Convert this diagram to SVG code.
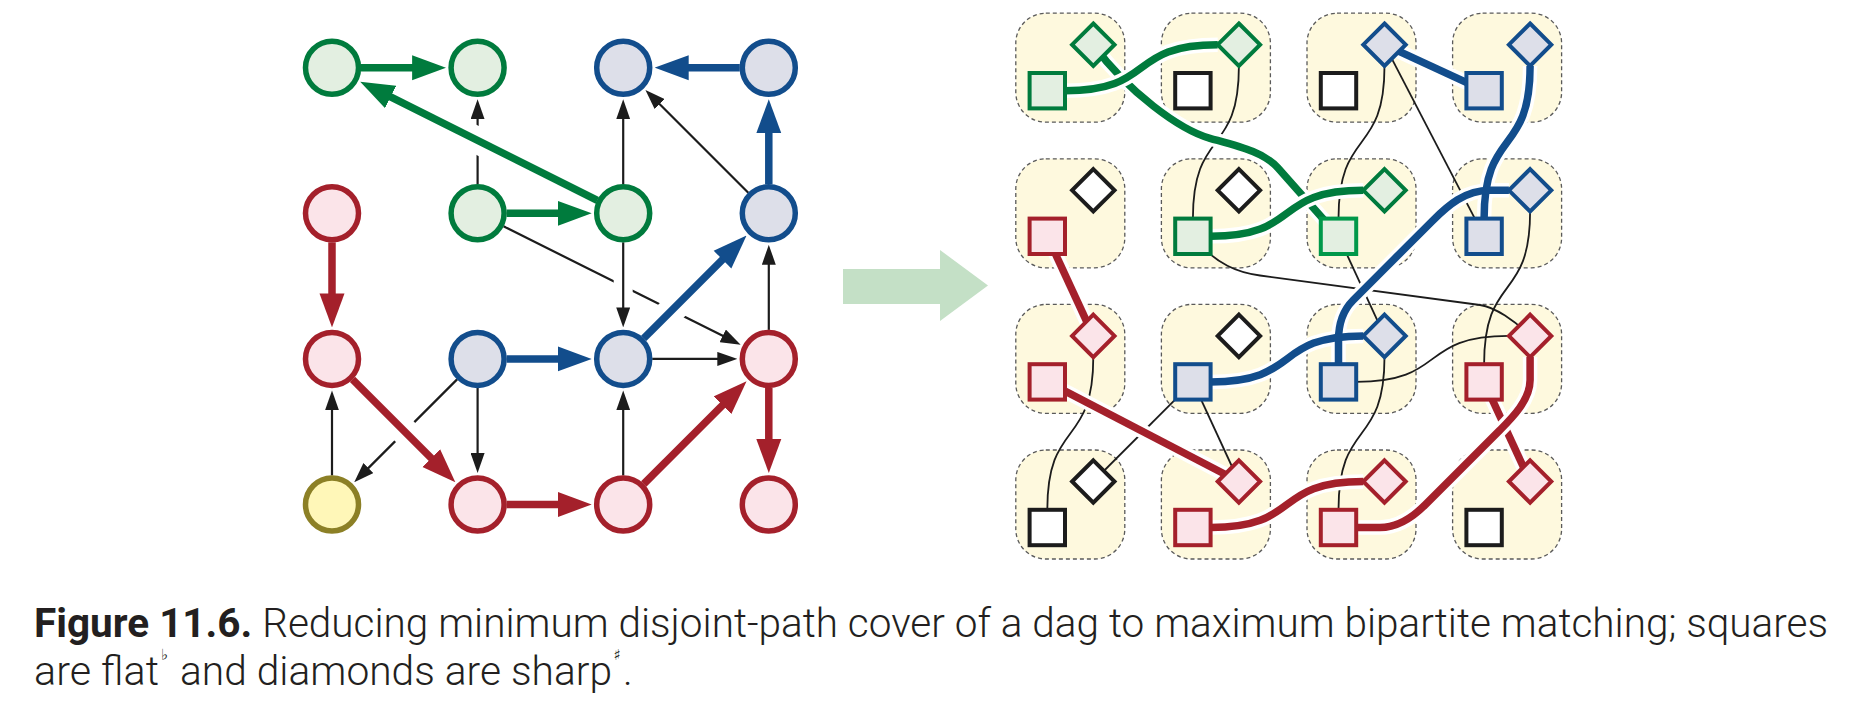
<svg xmlns="http://www.w3.org/2000/svg" width="1864" height="708" viewBox="0 0 1864 708">
<style>
.cG{fill:#e3efe1;stroke:#007b3d;stroke-width:5.5}
.cB{fill:#dddfe9;stroke:#124d8c;stroke-width:5.5}
.cR{fill:#fbe4e9;stroke:#a4202b;stroke-width:5.5}
.cY{fill:#fff7b8;stroke:#8c8026;stroke-width:5.5}
.hT{fill:none;stroke:#fff;stroke-width:27;stroke-linecap:butt}
.hK{fill:none;stroke:#fff;stroke-width:19;stroke-linecap:butt}
.eG{fill:none;stroke:#007b3d;stroke-width:7.5;marker-end:url(#mG)}
.eB{fill:none;stroke:#124d8c;stroke-width:7.5;marker-end:url(#mB)}
.eR{fill:none;stroke:#a4202b;stroke-width:7.5;marker-end:url(#mR)}
.eK{fill:none;stroke:#1c1c1c;stroke-width:2.2;marker-end:url(#mK)}
.blob{fill:#fef9de;stroke:#5a5a5a;stroke-width:1.3;stroke-dasharray:4 3}
.rh{fill:none;stroke:#fff;stroke-width:14.5;stroke-linecap:butt;stroke-linejoin:round}
.rG{fill:none;stroke:#007b3d;stroke-width:7.5;stroke-linejoin:round}
.rB{fill:none;stroke:#124d8c;stroke-width:7.5;stroke-linejoin:round}
.rR{fill:none;stroke:#a4202b;stroke-width:7.5;stroke-linejoin:round}
.rK{fill:none;stroke:#1c1c1c;stroke-width:1.8}
.sG{fill:#e3efe1;stroke:#007b3d;stroke-width:4}
.sG2{fill:#e3efe1;stroke:#00984a;stroke-width:4}
.sB{fill:#dddfe9;stroke:#124d8c;stroke-width:4}
.sR{fill:#fbe4e9;stroke:#a4202b;stroke-width:4}
.sK{fill:#ffffff;stroke:#1c1c1c;stroke-width:4}
.cap{font-family:Roboto,"Liberation Sans",sans-serif;font-size:40.5px;font-weight:300;fill:#231f20}
.capb{font-weight:700}
.sup{font-family:"DejaVu Sans",sans-serif;font-size:15px;fill:#231f20}
</style>
<defs>
<marker id="mG" markerUnits="userSpaceOnUse" viewBox="0 -13 34 26" markerWidth="34" markerHeight="26" refX="14" refY="0" orient="auto"><path d="M0,-12.5 L34,0 L0,12.5 z" fill="#007b3d"/></marker>
<marker id="mB" markerUnits="userSpaceOnUse" viewBox="0 -13 34 26" markerWidth="34" markerHeight="26" refX="14" refY="0" orient="auto"><path d="M0,-12.5 L34,0 L0,12.5 z" fill="#124d8c"/></marker>
<marker id="mR" markerUnits="userSpaceOnUse" viewBox="0 -13 34 26" markerWidth="34" markerHeight="26" refX="14" refY="0" orient="auto"><path d="M0,-12.5 L34,0 L0,12.5 z" fill="#a4202b"/></marker>
<marker id="mK" markerUnits="userSpaceOnUse" viewBox="0 -7 20 14" markerWidth="20" markerHeight="14" refX="10" refY="0" orient="auto"><path d="M0,-7 L20,0 L0,7 z" fill="#1c1c1c"/></marker>
</defs>

<g id="left-connectors">
<path class="hK" d="M503.5 226.3 L731.7 340.3"/><path class="eK" d="M503.5 226.3 L731.7 340.3"/>
<path class="hK" d="M477.6 184.3 L477.6 109.2"/><path class="eK" d="M477.6 184.3 L477.6 109.2"/>
<path class="hK" d="M623.2 184.3 L623.2 109.2"/><path class="eK" d="M623.2 184.3 L623.2 109.2"/>
<path class="hK" d="M748.3 192.8 L652.5 97"/><path class="eK" d="M748.3 192.8 L652.5 97"/>
<path class="hK" d="M623.2 242.3 L623.2 317.4"/><path class="eK" d="M623.2 242.3 L623.2 317.4"/>
<path class="hK" d="M768.8 329.9 L768.8 254.8"/><path class="eK" d="M768.8 329.9 L768.8 254.8"/>
<path class="hK" d="M652.2 358.9 L727.3 358.9"/><path class="eK" d="M652.2 358.9 L727.3 358.9"/>
<path class="hK" d="M332 475.5 L332 400.4"/><path class="eK" d="M332 475.5 L332 400.4"/>
<path class="hK" d="M457.1 379.4 L361.3 475.1"/><path class="eK" d="M457.1 379.4 L361.3 475.1"/>
<path class="hK" d="M477.6 387.9 L477.6 463"/><path class="eK" d="M477.6 387.9 L477.6 463"/>
<path class="hK" d="M623.2 475.5 L623.2 400.4"/><path class="eK" d="M623.2 475.5 L623.2 400.4"/>

<path class="hT" d="M361 67.7 L426.1 67.7"/><path class="eG" d="M361 67.7 L426.1 67.7"/>
<path class="hT" d="M597.3 200.3 L378.1 90.7"/><path class="eG" d="M597.3 200.3 L378.1 90.7"/>
<path class="hT" d="M506.6 213.3 L571.7 213.3"/><path class="eG" d="M506.6 213.3 L571.7 213.3"/>
<path class="hT" d="M739.8 67.7 L674.7 67.7"/><path class="eB" d="M739.8 67.7 L674.7 67.7"/>
<path class="hT" d="M768.8 184.3 L768.8 119.2"/><path class="eB" d="M768.8 184.3 L768.8 119.2"/>
<path class="hT" d="M643.7 338.4 L732.4 249.7"/><path class="eB" d="M643.7 338.4 L732.4 249.7"/>
<path class="hT" d="M506.6 358.9 L571.7 358.9"/><path class="eB" d="M506.6 358.9 L571.7 358.9"/>
<path class="hT" d="M332 242.3 L332 307.4"/><path class="eR" d="M332 242.3 L332 307.4"/>
<path class="hT" d="M352.5 379.4 L441.2 468.1"/><path class="eR" d="M352.5 379.4 L441.2 468.1"/>
<path class="hT" d="M506.6 504.5 L571.7 504.5"/><path class="eR" d="M506.6 504.5 L571.7 504.5"/>
<path class="hT" d="M643.7 484 L732.4 395.3"/><path class="eR" d="M643.7 484 L732.4 395.3"/>
<path class="hT" d="M768.8 387.9 L768.8 453"/><path class="eR" d="M768.8 387.9 L768.8 453"/>
</g>

<g id="L00"><circle class="cG" cx="332" cy="67.7" r="26.5"/></g>
<g id="L10"><circle class="cG" cx="477.6" cy="67.7" r="26.5"/></g>
<g id="L20"><circle class="cB" cx="623.2" cy="67.7" r="26.5"/></g>
<g id="L30"><circle class="cB" cx="768.8" cy="67.7" r="26.5"/></g>
<g id="L01"><circle class="cR" cx="332" cy="213.3" r="26.5"/></g>
<g id="L11"><circle class="cG" cx="477.6" cy="213.3" r="26.5"/></g>
<g id="L21"><circle class="cG" cx="623.2" cy="213.3" r="26.5"/></g>
<g id="L31"><circle class="cB" cx="768.8" cy="213.3" r="26.5"/></g>
<g id="L02"><circle class="cR" cx="332" cy="358.9" r="26.5"/></g>
<g id="L12"><circle class="cB" cx="477.6" cy="358.9" r="26.5"/></g>
<g id="L22"><circle class="cB" cx="623.2" cy="358.9" r="26.5"/></g>
<g id="L32"><circle class="cR" cx="768.8" cy="358.9" r="26.5"/></g>
<g id="L03"><circle class="cY" cx="332" cy="504.5" r="26.5"/></g>
<g id="L13"><circle class="cR" cx="477.6" cy="504.5" r="26.5"/></g>
<g id="L23"><circle class="cR" cx="623.2" cy="504.5" r="26.5"/></g>
<g id="L33"><circle class="cR" cx="768.8" cy="504.5" r="26.5"/></g>

<g id="transform-arrow"><polygon points="843,269 940,269 940,250 988,285.5 940,321 940,304 843,304" fill="#c4e0c6"/></g>

<g id="blobs">
<rect class="blob" x="1015.8" y="13.2" width="109" height="109" rx="30"/>
<rect class="blob" x="1161.4" y="13.2" width="109" height="109" rx="30"/>
<rect class="blob" x="1307" y="13.2" width="109" height="109" rx="30"/>
<rect class="blob" x="1452.6" y="13.2" width="109" height="109" rx="30"/>
<rect class="blob" x="1015.8" y="158.8" width="109" height="109" rx="30"/>
<rect class="blob" x="1161.4" y="158.8" width="109" height="109" rx="30"/>
<rect class="blob" x="1307" y="158.8" width="109" height="109" rx="30"/>
<rect class="blob" x="1452.6" y="158.8" width="109" height="109" rx="30"/>
<rect class="blob" x="1015.8" y="304.4" width="109" height="109" rx="30"/>
<rect class="blob" x="1161.4" y="304.4" width="109" height="109" rx="30"/>
<rect class="blob" x="1307" y="304.4" width="109" height="109" rx="30"/>
<rect class="blob" x="1452.6" y="304.4" width="109" height="109" rx="30"/>
<rect class="blob" x="1015.8" y="450" width="109" height="109" rx="30"/>
<rect class="blob" x="1161.4" y="450" width="109" height="109" rx="30"/>
<rect class="blob" x="1307" y="450" width="109" height="109" rx="30"/>
<rect class="blob" x="1452.6" y="450" width="109" height="109" rx="30"/>
</g>

<g id="right-connectors">
<path class="rK" d="M1238.9 65.9 C1238.9 157.5 1192.9 127 1192.9 218.6"/>
<path class="rK" d="M1384.5 65.9 C1384.5 157.5 1338.5 127 1338.5 218.6"/>
<path class="rK" d="M1384.5 44.7 L1484.1 236.3"/>
<path class="rK" d="M1338.5 236.3 L1384.5 335.9"/>
<path class="rK" d="M1200 245 C1218 263 1235 272.2 1260 275.5 L1480 305 C1495 307 1515 321 1530.1 335.9"/>
<path class="rK" d="M1530.1 211.5 C1530.1 303.1 1484.1 272.6 1484.1 364.2"/>
<path class="rK" d="M1356.2 381.9 C1447.8 381.9 1417.3 335.9 1508.9 335.9"/>
<path class="rK" d="M1093.3 357.1 C1093.3 448.7 1047.3 418.2 1047.3 509.8"/>
<path class="rK" d="M1192.9 381.9 L1093.3 481.5"/>
<path class="rK" d="M1192.9 381.9 L1238.9 481.5"/>
<path class="rK" d="M1384.5 357.1 C1384.5 448.7 1338.5 418.2 1338.5 509.8"/>

<path class="rh" d="M1093.3 44.7 C1128 92 1180 129.9 1210 138.3 C1240 146.7 1264 152.2 1278 168 L1338.5 236.3"/>
<path class="rG" d="M1093.3 44.7 C1128 92 1180 129.9 1210 138.3 C1240 146.7 1264 152.2 1278 168 L1338.5 236.3"/>
<path class="rh" d="M1065 90.7 C1156.6 90.7 1126.1 44.7 1217.7 44.7"/>
<path class="rG" d="M1065 90.7 C1156.6 90.7 1126.1 44.7 1217.7 44.7"/>
<path class="rh" d="M1210.6 236.3 C1302.2 236.3 1271.7 190.3 1363.3 190.3"/>
<path class="rG" d="M1210.6 236.3 C1302.2 236.3 1271.7 190.3 1363.3 190.3"/>

<path class="rh" d="M1384.5 44.7 L1484.1 90.7"/>
<path class="rh" d="M1530.1 65.9 C1530.1 157.5 1484.1 127 1484.1 218.6"/>
<path class="rh" d="M1338.5 381.9 L1338.5 340 C1338.5 322 1343 310.3 1353 300.3 L1432 221.3 C1448 205.3 1465 190.3 1490 190.3 L1508.9 190.3"/>
<path class="rh" d="M1210.6 381.9 C1302.2 381.9 1271.7 335.9 1363.3 335.9"/>
<path class="rB" d="M1384.5 44.7 L1484.1 90.7"/>
<path class="rB" d="M1530.1 65.9 C1530.1 157.5 1484.1 127 1484.1 218.6"/>
<path class="rB" d="M1338.5 381.9 L1338.5 340 C1338.5 322 1343 310.3 1353 300.3 L1432 221.3 C1448 205.3 1465 190.3 1490 190.3 L1508.9 190.3"/>
<path class="rB" d="M1210.6 381.9 C1302.2 381.9 1271.7 335.9 1363.3 335.9"/>

<path class="rh" d="M1047.3 236.3 L1093.3 335.9"/><path class="rR" d="M1047.3 236.3 L1093.3 335.9"/>
<path class="rh" d="M1047.3 381.9 L1238.9 481.5"/><path class="rR" d="M1047.3 381.9 L1238.9 481.5"/>
<path class="rh" d="M1210.6 527.5 C1302.2 527.5 1271.7 481.5 1363.3 481.5"/><path class="rR" d="M1210.6 527.5 C1302.2 527.5 1271.7 481.5 1363.3 481.5"/>
<path class="rh" d="M1484.1 381.9 L1530.1 481.5"/><path class="rR" d="M1484.1 381.9 L1530.1 481.5"/>
<path class="rh" d="M1338.5 527.5 L1380 527.5 C1398 527.5 1413 517 1425 505 L1500 430 C1512 418 1530.1 400 1530.1 380 L1530.1 357.1"/>
<path class="rR" d="M1338.5 527.5 L1380 527.5 C1398 527.5 1413 517 1425 505 L1500 430 C1512 418 1530.1 400 1530.1 380 L1530.1 357.1"/>
</g>

<g id="R00"><rect class="sG" x="1029.6" y="73" width="35.4" height="35.4"/><polygon class="sG" points="1093.3,23.5 1114.5,44.7 1093.3,65.9 1072.1,44.7"/></g>
<g id="R10"><rect class="sK" x="1175.2" y="73" width="35.4" height="35.4"/><polygon class="sG" points="1238.9,23.5 1260.1,44.7 1238.9,65.9 1217.7,44.7"/></g>
<g id="R20"><rect class="sK" x="1320.8" y="73" width="35.4" height="35.4"/><polygon class="sB" points="1384.5,23.5 1405.7,44.7 1384.5,65.9 1363.3,44.7"/></g>
<g id="R30"><rect class="sB" x="1466.4" y="73" width="35.4" height="35.4"/><polygon class="sB" points="1530.1,23.5 1551.3,44.7 1530.1,65.9 1508.9,44.7"/></g>
<g id="R01"><rect class="sR" x="1029.6" y="218.6" width="35.4" height="35.4"/><polygon class="sK" points="1093.3,169.1 1114.5,190.3 1093.3,211.5 1072.1,190.3"/></g>
<g id="R11"><rect class="sG" x="1175.2" y="218.6" width="35.4" height="35.4"/><polygon class="sK" points="1238.9,169.1 1260.1,190.3 1238.9,211.5 1217.7,190.3"/></g>
<g id="R21"><rect class="sG2" x="1320.8" y="218.6" width="35.4" height="35.4"/><polygon class="sG" points="1384.5,169.1 1405.7,190.3 1384.5,211.5 1363.3,190.3"/></g>
<g id="R31"><rect class="sB" x="1466.4" y="218.6" width="35.4" height="35.4"/><polygon class="sB" points="1530.1,169.1 1551.3,190.3 1530.1,211.5 1508.9,190.3"/></g>
<g id="R02"><rect class="sR" x="1029.6" y="364.2" width="35.4" height="35.4"/><polygon class="sR" points="1093.3,314.7 1114.5,335.9 1093.3,357.1 1072.1,335.9"/></g>
<g id="R12"><rect class="sB" x="1175.2" y="364.2" width="35.4" height="35.4"/><polygon class="sK" points="1238.9,314.7 1260.1,335.9 1238.9,357.1 1217.7,335.9"/></g>
<g id="R22"><rect class="sB" x="1320.8" y="364.2" width="35.4" height="35.4"/><polygon class="sB" points="1384.5,314.7 1405.7,335.9 1384.5,357.1 1363.3,335.9"/></g>
<g id="R32"><rect class="sR" x="1466.4" y="364.2" width="35.4" height="35.4"/><polygon class="sR" points="1530.1,314.7 1551.3,335.9 1530.1,357.1 1508.9,335.9"/></g>
<g id="R03"><rect class="sK" x="1029.6" y="509.8" width="35.4" height="35.4"/><polygon class="sK" points="1093.3,460.3 1114.5,481.5 1093.3,502.7 1072.1,481.5"/></g>
<g id="R13"><rect class="sR" x="1175.2" y="509.8" width="35.4" height="35.4"/><polygon class="sR" points="1238.9,460.3 1260.1,481.5 1238.9,502.7 1217.7,481.5"/></g>
<g id="R23"><rect class="sR" x="1320.8" y="509.8" width="35.4" height="35.4"/><polygon class="sR" points="1384.5,460.3 1405.7,481.5 1384.5,502.7 1363.3,481.5"/></g>
<g id="R33"><rect class="sK" x="1466.4" y="509.8" width="35.4" height="35.4"/><polygon class="sR" points="1530.1,460.3 1551.3,481.5 1530.1,502.7 1508.9,481.5"/></g>

<g id="caption">
<text class="cap" x="34" y="637" textLength="1794" lengthAdjust="spacingAndGlyphs"><tspan class="capb">Figure 11.6.</tspan> Reducing minimum disjoint-path cover of a dag to maximum bipartite matching; squares</text>
<text class="cap" x="34" y="685" textLength="125" lengthAdjust="spacingAndGlyphs">are flat</text>
<text class="sup" x="161" y="660">♭</text>
<text class="cap" x="180" y="685" textLength="432" lengthAdjust="spacingAndGlyphs">and diamonds are sharp</text>
<text class="sup" x="613.5" y="660">♯</text>
<text class="cap" x="623" y="685">.</text>
</g>
</svg>
